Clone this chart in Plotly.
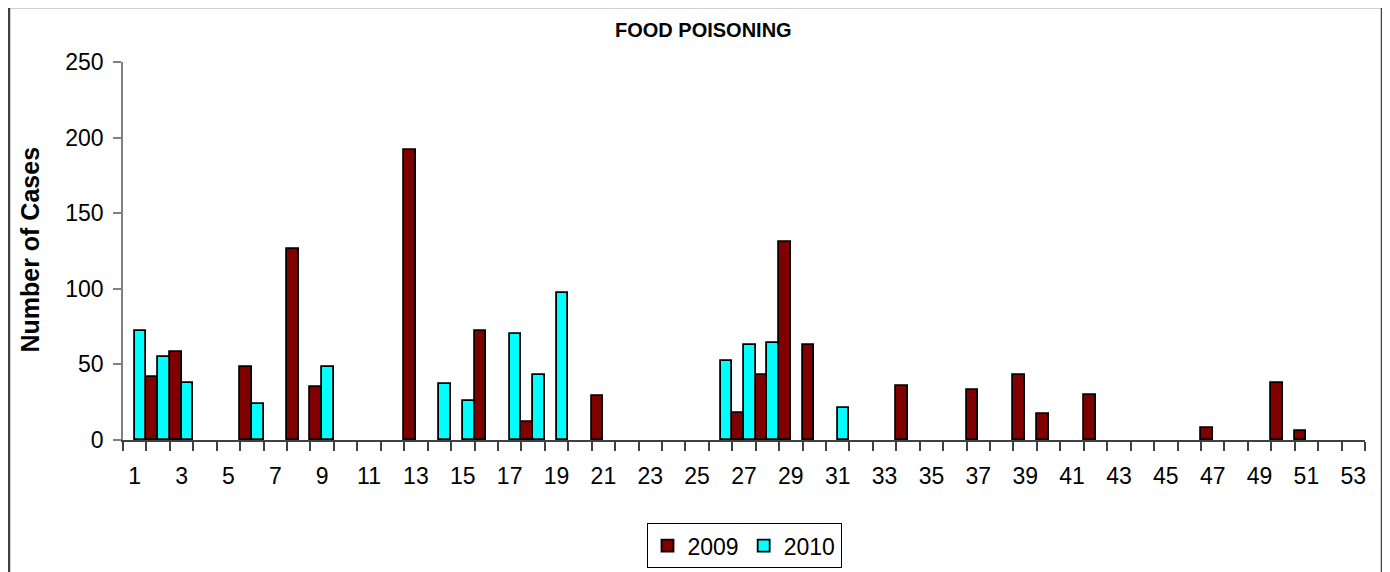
import plotly.graph_objects as go

weeks = list(range(1, 54))

# weekly counts (0 = no bar)
cases_2009 = [0, 42, 58, 0, 0, 48, 0, 126, 35, 0,
              0, 0, 192, 0, 0, 72, 0, 12, 0, 0,
              29, 0, 0, 0, 0, 0, 18, 43, 131, 63,
              0, 0, 0, 36, 0, 0, 33, 0, 43, 17,
              0, 30, 0, 0, 0, 0, 8, 0, 0, 38,
              6, 0, 0]
cases_2010 = [72, 55, 38, 0, 0, 24, 0, 0, 48, 0,
              0, 0, 0, 37, 26, 0, 70, 43, 97, 0,
              0, 0, 0, 0, 0, 52, 63, 64, 0, 0,
              21, 0, 0, 0, 0, 0, 0, 0, 0, 0,
              0, 0, 0, 0, 0, 0, 0, 0, 0, 0,
              0, 0, 0]

series = ["2009", "2010"]
colors = ["#800000", "#00FFFF"]

font = "Arial, Liberation Sans, sans-serif"

fig = go.Figure()
for name, vals, col in zip(series, [cases_2009, cases_2010], colors):
    fig.add_trace(go.Bar(
        x=weeks,
        y=[v if v else None for v in vals],
        name=name,
        marker=dict(color=col, line=dict(color="black", width=1.8)),
    ))

# page body has an 8px margin, so the figure is a bit smaller than the window
fig.update_layout(
    width=1382, height=564,
    margin=dict(l=115, r=25, t=54, b=132, autoexpand=False),
    paper_bgcolor="white", plot_bgcolor="white",
    barmode="group", bargap=0, bargroupgap=0,
    font=dict(family=font, size=23, color="black"),
    showlegend=True,
    legend=dict(orientation="h", x=0.5, xanchor="center", y=-0.22, yanchor="top",
                bordercolor="black", borderwidth=1, font=dict(size=23),
                traceorder="normal", itemwidth=30),
)

fig.update_xaxes(
    range=[0.5, 53.5], tickmode="array", tickvals=weeks[::2],
    ticks="", showline=True, linecolor="#404040", linewidth=1.5,
    showgrid=False, zeroline=False, ticklabelstandoff=15,
    minor=dict(ticks="outside", tick0=0.5, dtick=1, ticklen=9,
               tickcolor="#404040", tickwidth=1.5, showgrid=False),
)
fig.update_yaxes(
    range=[0, 250], dtick=50, ticks="outside", ticklen=8,
    tickcolor="#808080", tickwidth=1.5, showline=True, linecolor="#808080",
    linewidth=1.5, showgrid=False, zeroline=False, ticklabelstandoff=5,
)

fig.add_annotation(text="<b>FOOD POISONING</b>", xref="paper", yref="paper",
                   x=0.467, y=1.085, xanchor="center", yanchor="middle",
                   showarrow=False, font=dict(size=20))
fig.add_annotation(text="<b>Number of Cases</b>", xref="paper", yref="paper",
                   x=-0.0745, y=0.505, xanchor="center", yanchor="middle",
                   textangle=-90, showarrow=False, font=dict(size=25))

# outer chart border
fig.add_shape(type="rect", xref="paper", yref="paper",
              x0=-0.0918, x1=1.0137, y0=-0.36, y1=1.1455,
              line=dict(color="#404040", width=2.5))

fig.write_html("out.html")
